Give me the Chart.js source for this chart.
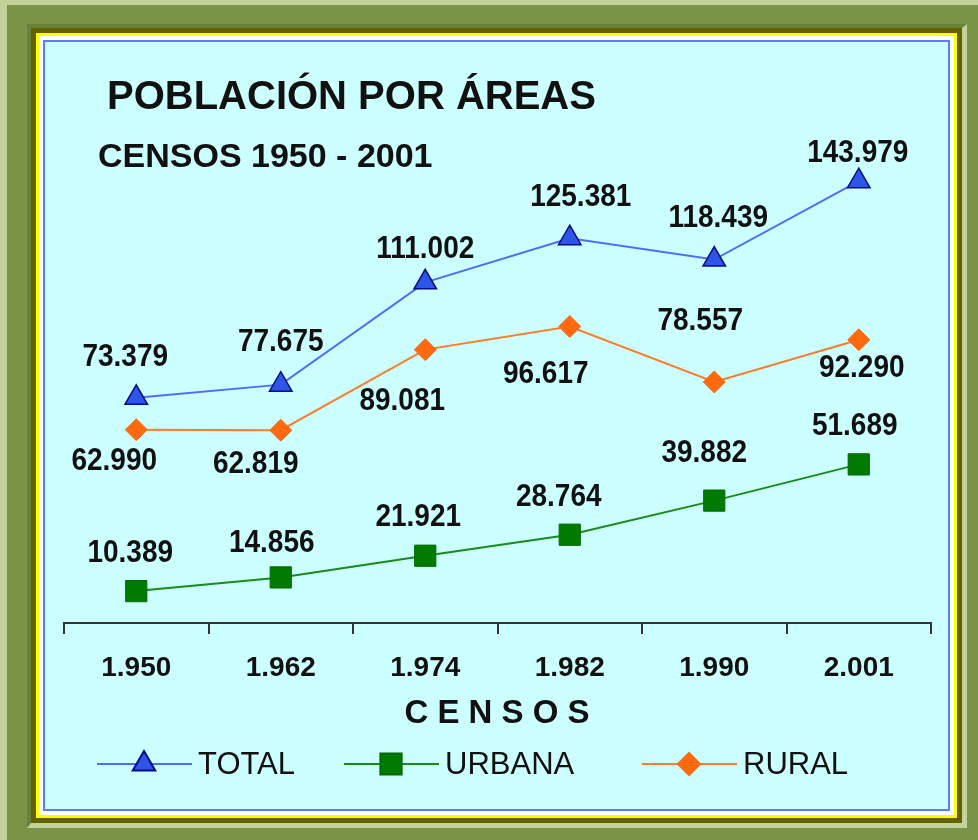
<!DOCTYPE html>
<html>
<head>
<meta charset="utf-8">
<script src="https://cdn.jsdelivr.net/npm/chart.js@4.4.1/dist/chart.umd.min.js"></script>
<style>
  html, body { margin: 0; padding: 0; }
  body { width: 978px; height: 840px; position: relative; overflow: hidden; background: #7b9346; }
  .box { position: absolute; box-sizing: border-box; }
  #chart { position: absolute; left: 0; top: 0; }
</style>
</head>
<body>
<!-- frame -->
<div class="box" style="left:0;top:0;width:978px;height:5px;background:#c2d29a"></div>
<div class="box" style="left:0;top:0;width:7px;height:840px;background:#c2d29a"></div>
<div class="box" style="left:27px;top:24px;width:940px;height:804px;border-style:solid;border-width:4px 5px 5px 4px;border-color:#6b7f3b #c2d29a #c2d29a #6b7f3b"></div>
<div class="box" style="left:31px;top:28px;width:931px;height:795px;background:#626200"></div>
<div class="box" style="left:36px;top:33px;width:921px;height:785px;background:#ffff00"></div>
<div class="box" style="left:39px;top:36px;width:915px;height:779px;background:#ffffff"></div>
<div class="box" style="left:43px;top:40px;width:907px;height:771px;background:#5b7cff"></div>
<div class="box" style="left:45px;top:42px;width:903px;height:767px;background:#ccffff"></div>

<canvas id="chart" width="978" height="840"></canvas>

<script>
// census years and population (thousands separator '.')
const years = [1950, 1962, 1974, 1982, 1990, 2001];
const total = [73379, 77675, 111002, 125381, 118439, 143979];
const urbana = [10389, 14856, 21921, 28764, 39882, 51689];
const rural = [62990, 62819, 89081, 96617, 78557, 92290];

const FONT = '"Liberation Sans", Arial, sans-serif';
const fmt = (n) => String(n).replace(/\B(?=(\d{3})+(?!\d))/g, ".");

// where each value label sits relative to its point (dx, dy)
const labelOffsets = {
  TOTAL: [[-11, -40], [0, -42], [0, -33], [11, -41], [4, -41], [-1, -28]],
  URBANA: [[-6, -38], [-9, -34], [-7, -38], [-11, -37], [-10, -47], [-4, -38]],
  RURAL: [[-22, 32], [-25, 34], [-23, 52], [-24, 48], [-14, -60], [3, 29]],
};

const textPlugin = {
  id: "texts",
  afterDatasetsDraw(chart) {
    const ctx = chart.ctx;
    ctx.save();
    ctx.fillStyle = "#111";
    ctx.textAlign = "center";
    ctx.textBaseline = "middle";
    ctx.font = "bold 28px " + FONT;
    chart.data.datasets.forEach((ds, i) => {
      const meta = chart.getDatasetMeta(i);
      const offs = labelOffsets[ds.label];
      meta.data.forEach((pt, j) => {
        // labels look slightly taller than wide in the original
        ctx.save();
        ctx.translate(pt.x + offs[j][0], pt.y + offs[j][1]);
        ctx.scale(1, 1.1);
        ctx.fillText(fmt(ds.data[j]), 0, 0);
        ctx.restore();
      });
    });

    // titles
    ctx.textAlign = "left";
    ctx.textBaseline = "alphabetic";
    ctx.font = "bold 40px " + FONT;
    ctx.fillText("POBLACIÓN POR ÁREAS", 107, 109);
    ctx.font = "bold 34px " + FONT;
    ctx.fillText("CENSOS 1950 - 2001", 98, 167);

    // axis title
    ctx.textAlign = "center";
    ctx.textBaseline = "middle";
    ctx.font = "bold 33px " + FONT;
    ctx.fillText("C E N S O S", 497, 714);

    // legend
    const items = [
      { ds: 0, x: 97 },
      { ds: 1, x: 344 },
      { ds: 2, x: 642 },
    ];
    const ly = 764;
    items.forEach((it) => {
      const ds = chart.data.datasets[it.ds];
      ctx.strokeStyle = ds.borderColor;
      ctx.lineWidth = 2;
      ctx.beginPath();
      ctx.moveTo(it.x, ly);
      ctx.lineTo(it.x + 95, ly);
      ctx.stroke();
      ctx.fillStyle = ds.pointBackgroundColor;
      ctx.strokeStyle = ds.pointBorderColor;
      Chart.helpers.drawPoint(ctx, {
        pointStyle: ds.pointStyle,
        radius: ds.pointRadius,
        rotation: 0,
        borderWidth: ds.pointBorderWidth,
      }, it.x + 47, ly);
      ctx.fillStyle = "#111";
      ctx.textAlign = "left";
      ctx.font = "31px " + FONT;
      ctx.fillText(ds.label, it.x + 101, ly + 1);
    });
    ctx.restore();
  },
};

new Chart(document.getElementById("chart"), {
  type: "line",
  data: {
    labels: years.map(fmt),
    datasets: [
      {
        label: "TOTAL",
        data: total,
        borderColor: "#4d6dff",
        borderWidth: 2,
        pointStyle: "triangle",
        pointRadius: 13,
        pointBackgroundColor: "#2f55e6",
        pointBorderColor: "#000c8a",
        pointBorderWidth: 1.5,
      },
      {
        label: "URBANA",
        data: urbana,
        borderColor: "#1a8a1a",
        borderWidth: 2,
        pointStyle: "rect",
        pointRadius: 15,
        pointBackgroundColor: "#007a00",
        pointBorderColor: "#006a00",
        pointBorderWidth: 1,
      },
      {
        label: "RURAL",
        data: rural,
        borderColor: "#ff7b2a",
        borderWidth: 2,
        pointStyle: "rectRot",
        pointRadius: 11,
        pointBackgroundColor: "#ff6a10",
        pointBorderColor: "#ff6a10",
        pointBorderWidth: 1,
      },
    ],
  },
  options: {
    responsive: false,
    animation: false,
    events: [],
    layout: { padding: { left: 64, right: 47, top: 132, bottom: 157 } },
    plugins: { legend: { display: false }, title: { display: false }, tooltip: { enabled: false } },
    elements: { line: { tension: 0 } },
    scales: {
      x: {
        type: "category",
        offset: true,
        grid: { display: true, offset: true, drawOnChartArea: false, drawTicks: true, tickLength: 11, color: "#333", lineWidth: 2 },
        border: { display: true, color: "#333", width: 2 },
        ticks: { color: "#111", font: { family: FONT, size: 28, weight: "bold" }, padding: 17, maxRotation: 0, autoSkip: false },
        afterFit: (s) => { s.height = 60; },
      },
      y: { display: false, min: 0, max: 160000 },
    },
  },
  plugins: [textPlugin],
});
</script>
</body>
</html>
